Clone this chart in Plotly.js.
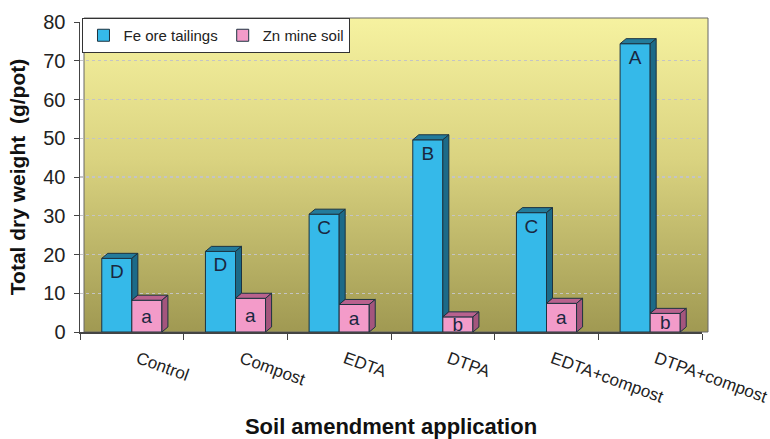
<!DOCTYPE html>
<html>
<head>
<meta charset="utf-8">
<script src="https://cdn.plot.ly/plotly-3.0.1.min.js"></script>
<style>html,body{margin:0;padding:0;background:#fff;}#chart{width:770px;height:439px;}</style>
</head>
<body>
<div id="chart"></div>
<script>
// ---- data ----
const categories = ["Control", "Compost", "EDTA", "DTPA", "EDTA+compost", "DTPA+compost"];
const feOreTailings = [19, 20.8, 30.4, 49.6, 30.8, 74.4];
const znMineSoil = [8.2, 8.7, 7.1, 3.9, 7.4, 4.8];
const feLetters = ["D", "D", "C", "B", "C", "A"];
const znLetters = ["a", "a", "a", "b", "a", "b"];
const seriesNames = ["Fe ore tailings", "Zn mine soil"];
const yTicks = [0, 10, 20, 30, 40, 50, 60, 70, 80];

// ---- style ----
const idx = categories.map((c, i) => i);
const W = 0.29;      // bar width (category units)
const DX = 0.058;    // 3D depth horizontal
const DY = 1.3;      // 3D depth vertical (value units)
const feColor = "#35b9e9", feDark = "#1c6a88", feTop = "#237b9b";
const znColor = "#f39bc9", znDark = "#a4557d", znTop = "#b9628e";
const edge = "#1d3340";
const font = "Liberation Sans, Arial, sans-serif";

// 3D faces (computed from the data values through the axes)
function facePolys(vals, left, lows) {
  const top = {x: [], y: []}, side = {x: [], y: []};
  vals.forEach((v, i) => {
    const a = i + left, b = a + W, lo = lows ? lows[i] : 0;
    top.x.push(a, a + DX, b + DX, b, a, null);
    top.y.push(v, v + DY, v + DY, v, v, null);
    side.x.push(b, b + DX, b + DX, b, b, null);
    side.y.push(lo, lo + DY, v + DY, v, lo, null);
  });
  return {top, side};
}
function polyTrace(p, col) {
  return {type: "scatter", mode: "lines", x: p.x, y: p.y, fill: "toself",
    fillcolor: col, line: {color: edge, width: 1}, showlegend: false, hoverinfo: "skip"};
}
function front(vals, off, col, name, letters, anchor) {
  return {type: "bar", x: idx, y: vals, offset: off, width: W, name: name,
    marker: {color: col, line: {color: edge, width: 1}},
    text: letters, textposition: "inside", insidetextanchor: anchor,
    constraintext: "none", textangle: 0,
    textfont: {family: font, size: 19, color: "#1a2740"},
    hoverinfo: "x+y"};
}

const feFaces = facePolys(feOreTailings, -W, znMineSoil);
const znFaces = facePolys(znMineSoil, 0, null);

const traces = [
  front(feOreTailings, -W, feColor, seriesNames[0], feLetters, "end"),
  front(znMineSoil, 0, znColor, seriesNames[1], znLetters, "middle"),
  polyTrace(feFaces.top, feTop),
  polyTrace(feFaces.side, feDark),
  polyTrace(znFaces.top, znTop),
  polyTrace(znFaces.side, znDark)
];

const gradSvg = '<svg xmlns="http://www.w3.org/2000/svg" width="100" height="100" preserveAspectRatio="none">' +
  '<defs><linearGradient id="g" x1="0" y1="0" x2="0" y2="1">' +
  '<stop offset="0" stop-color="#f6f2a0"/><stop offset="0.45" stop-color="#dad380"/>' +
  '<stop offset="1" stop-color="#a09952"/></linearGradient></defs>' +
  '<rect width="100" height="100" fill="url(#g)"/></svg>';

const plotW = 622, plotH = 310;

const layout = {
  width: 770, height: 439,
  margin: {l: 80, r: 68, t: 22, b: 107},
  paper_bgcolor: "#ffffff",
  plot_bgcolor: "rgba(0,0,0,0)",
  barmode: "overlay",
  font: {family: font, color: "#222"},
  images: [{
    source: "data:image/svg+xml;charset=utf-8," + encodeURIComponent(gradSvg),
    xref: "paper", yref: "paper", x: 4 / plotW, y: 1 + 4 / plotH,
    sizex: (628 - 4) / plotW, sizey: 1 + 4 / plotH,
    xanchor: "left", yanchor: "top", sizing: "stretch", layer: "below"
  }],
  shapes: [{
    type: "rect", xref: "paper", yref: "paper",
    x0: 4 / plotW, x1: 628 / plotW, y0: 0, y1: 1 + 4 / plotH,
    line: {color: "#666", width: 1}, layer: "below"
  }],
  xaxis: {
    range: [-0.5, 5.5], tickmode: "array", tickvals: idx, ticktext: categories,
    tickangle: 20, ticks: "", tickfont: {size: 17, color: "#222", family: font},
    ticklabelstandoff: 9, ticklabelshift: 6,
    showline: true, linecolor: "#444", linewidth: 1.5, showgrid: false, zeroline: false,
    minor: {tickmode: "array", tickvals: [-0.5, 0.5, 1.5, 2.5, 3.5, 4.5, 5.5], ticks: "outside", ticklen: 6, tickcolor: "#444", showgrid: false},
    title: {text: "Soil amendment application", font: {size: 22, family: font, color: "#111", weight: "bold"}, standoff: 16},
    fixedrange: true
  },
  yaxis: {
    range: [0, 80], tickmode: "array", tickvals: yTicks,
    ticks: "outside", ticklen: 5, tickcolor: "#444",
    tickfont: {size: 20, color: "#222", family: font},
    ticklabelstandoff: 4,
    showline: true, linecolor: "#444", linewidth: 1.5,
    showgrid: true, gridcolor: "#c4c4c4", griddash: "dot", gridwidth: 1.2,
    zeroline: false,
    title: {text: "Total dry weight\u00a0\u00a0(g/pot)", font: {size: 21, family: font, color: "#111", weight: "bold"}, standoff: 12},
    fixedrange: true
  },
  legend: {
    orientation: "h", x: 0.004, y: 1 + 4 / plotH, xanchor: "left", yanchor: "top",
    bgcolor: "#ffffff", bordercolor: "#333", borderwidth: 1,
    font: {size: 15, family: font, color: "#222"},
    itemwidth: 30, traceorder: "normal"
  },
  showlegend: true
};

Plotly.newPlot("chart", traces, layout, {displayModeBar: false, staticPlot: true});
</script>
</body>
</html>
